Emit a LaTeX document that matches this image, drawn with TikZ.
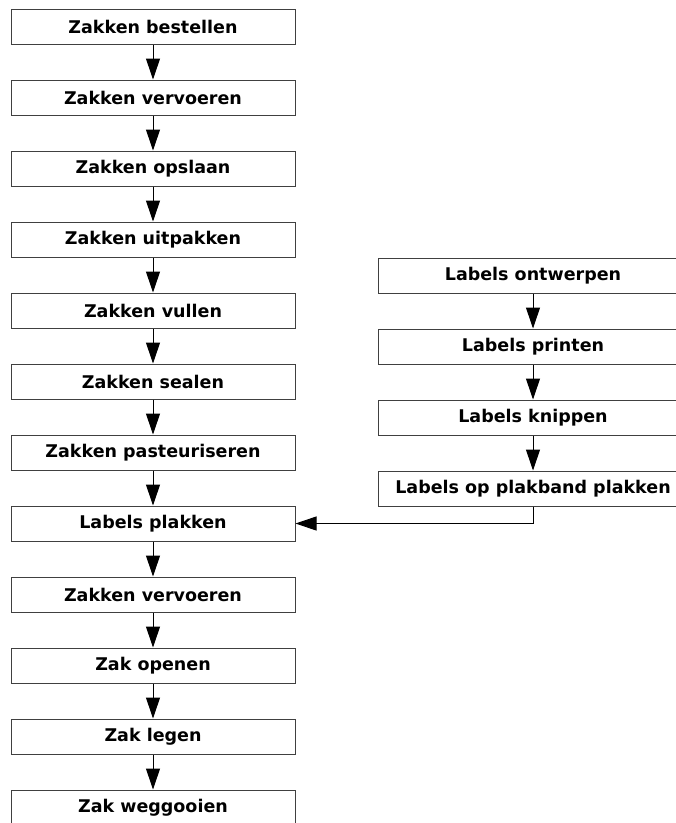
\documentclass[tikz,border=0pt]{standalone}
\usepackage{fontspec}
\setmainfont{DejaVu Sans}
\usetikzlibrary{arrows.meta}
\begin{document}
\begin{tikzpicture}[x=1pt,y=-1pt,
  stepbox/.style={draw=black!75,line width=1pt,rectangle,minimum height=35pt,
    inner sep=0pt,font=\fontsize{17.5}{20}\selectfont\bfseries},
  leftbox/.style={stepbox,minimum width=284pt},
  rightbox/.style={stepbox,minimum width=310pt},
  flow/.style={draw=black,line width=1pt,-{Triangle[length=21pt,width=14pt]}}]
\useasboundingbox (0,0) rectangle (676,823);
\clip (0,0) rectangle (676,823);
\fill[white] (0,0) rectangle (676,823);

% main process column
\node[leftbox] (l1)  at (153,26.5)  {Zakken bestellen};
\node[leftbox] (l2)  at (153,97.5)  {Zakken vervoeren};
\node[leftbox] (l3)  at (153,168.5) {Zakken opslaan};
\node[leftbox] (l4)  at (153,239.5) {Zakken uitpakken};
\node[leftbox] (l5)  at (153,310.5) {Zakken vullen};
\node[leftbox] (l6)  at (153,381.5) {Zakken sealen};
\node[leftbox] (l7)  at (153,452.5) {Zakken pasteuriseren};
\node[leftbox] (l8)  at (153,523.5) {Labels plakken};
\node[leftbox] (l9)  at (153,594.5) {Zakken vervoeren};
\node[leftbox] (l10) at (153,665.5) {Zak openen};
\node[leftbox] (l11) at (153,736.5) {Zak legen};
\node[leftbox] (l12) at (153,807.5) {Zak weggooien};

% label preparation column
\node[rightbox] (r1) at (533,275.5) {Labels ontwerpen};
\node[rightbox] (r2) at (533,346.5) {Labels printen};
\node[rightbox] (r3) at (533,417.5) {Labels knippen};
\node[rightbox] (r4) at (533,488.5) {Labels op plakband plakken};

\foreach \a/\b in {l1/l2,l2/l3,l3/l4,l4/l5,l5/l6,l6/l7,l7/l8,l8/l9,l9/l10,l10/l11,l11/l12,
                   r1/r2,r2/r3,r3/r4}
  \draw[flow] (\a) -- (\b);

\draw[flow] (r4.south) |- (l8.east);
\end{tikzpicture}
\end{document}
